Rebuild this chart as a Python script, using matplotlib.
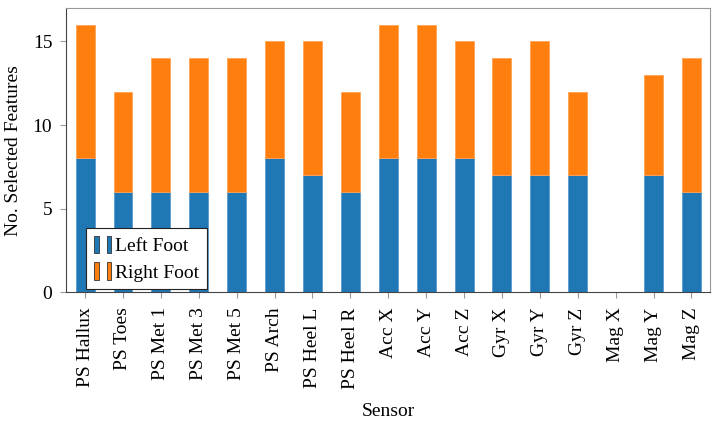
import matplotlib
matplotlib.use("Agg")
import matplotlib.pyplot as plt
from matplotlib.patches import Rectangle
from matplotlib.legend_handler import HandlerTuple

sensors = ["PS Hallux", "PS Toes", "PS Met 1", "PS Met 3", "PS Met 5", "PS Arch",
           "PS Heel L", "PS Heel R", "Acc X", "Acc Y", "Acc Z", "Gyr X", "Gyr Y",
           "Gyr Z", "Mag X", "Mag Y", "Mag Z"]
left_foot = [8, 6, 6, 6, 6, 8, 7, 6, 8, 8, 8, 7, 7, 7, 0, 7, 6]
right_foot = [8, 6, 8, 8, 8, 7, 8, 6, 8, 8, 7, 7, 8, 5, 0, 6, 8]

blue = "#1f77b4"
orange = "#ff7f0e"

plt.rcParams["font.family"] = ["Liberation Serif", "DejaVu Serif"]

fig = plt.figure(figsize=(7.19, 4.24), dpi=100)
ax = fig.add_axes([0.092, 0.311, 0.896, 0.67])

x = range(len(sensors))
ax.bar(x, left_foot, width=0.5, color=blue, edgecolor="#5a9bd0", linewidth=0.6)
ax.bar(x, right_foot, width=0.5, bottom=left_foot, color=orange,
       edgecolor="#ffa455", linewidth=0.6)

ax.set_xlim(-0.5, 16.5)
ax.set_ylim(0, 17)
ax.set_yticks([0, 5, 10, 15])
ax.set_xticks(list(x))
ax.set_xticklabels(sensors, rotation=90)
ax.tick_params(axis="both", labelsize=14, color="#999999", length=4, width=0.8)
ax.tick_params(axis="x", pad=7)
ax.tick_params(axis="y", pad=6)
ax.set_xlabel("Sensor", fontsize=14, labelpad=10)
ax.set_ylabel("No. Selected Features", fontsize=14, labelpad=8)
for side in ["top", "right"]:
    ax.spines[side].set_color("#999999")
for side in ["left", "bottom"]:
    ax.spines[side].set_color("#444444")

# pgfplots style legend: two small bars per entry
h_left = (Rectangle((0, 0), 1, 1, fc=blue, ec="#333333", lw=0.6),
          Rectangle((0, 0), 1, 1, fc=blue, ec="#333333", lw=0.6))
h_right = (Rectangle((0, 0), 1, 1, fc=orange, ec="#333333", lw=0.6),
           Rectangle((0, 0), 1, 1, fc=orange, ec="#333333", lw=0.6))
leg = ax.legend([h_left, h_right], ["Left Foot", "Right Foot"],
                handler_map={tuple: HandlerTuple(ndivide=None, pad=0.4)},
                loc="lower left", bbox_to_anchor=(0.031, 0.01), fontsize=14,
                borderaxespad=0, handlelength=0.9, handleheight=1.0,
                handletextpad=0.2, labelspacing=0.35, borderpad=0.4,
                fancybox=False, edgecolor="#222222", framealpha=1)
leg.get_frame().set_linewidth(0.8)

fig.savefig("out.png", dpi=100)
